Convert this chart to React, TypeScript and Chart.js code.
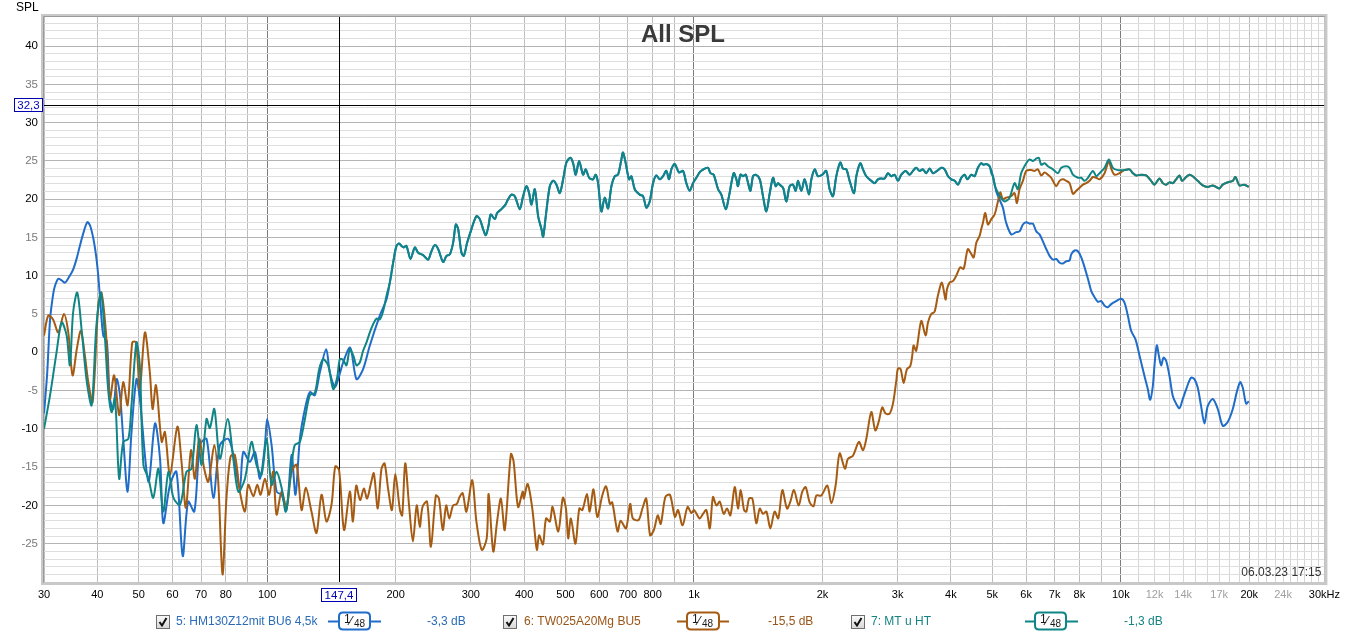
import React, { useEffect, useRef } from 'react';
import { Chart, registerables } from 'chart.js';

Chart.register(...registerables);

// ---------------- DATA ----------------
// Woofer (5: HM130Z12mit BU6 4,5k) – low part
const FREQ_LOW_BLUE = [30, 30.5, 31, 31.5, 31.8, 32.4, 33, 33.6, 34.3, 35.1, 35.8, 36.4, 37.2, 37.9, 38.5, 39.2, 39.8, 40.2, 40.6, 41.3, 42.1, 42.8, 43.6, 44.4, 45.2, 46.0, 47.1, 48.1, 49.4, 50.3, 52.7, 54.6, 56.1, 57.1, 59.2, 61.3, 63.4, 65.3, 67.5, 69.6, 72.1, 74.8, 77.5, 81.1, 83.3, 86.3, 87.9, 91.1, 93.6, 96.2, 98.8, 100, 102.4, 105.2, 108.1, 111.0, 114.1, 116.5, 119.3, 122.6, 125.9, 129.3, 132.9, 137.5, 140.2, 144.1, 146.7, 150.7, 156.5, 161.9, 167.8, 174.0, 183.6, 190.3];
const DB_LOW_BLUE = [-8.0, -3.0, 4.3, 7.5, 8.6, 9.6, 9.4, 9.1, 9.8, 10.8, 12.3, 13.9, 15.8, 17.0, 16.5, 14.7, 12.3, 10.0, 7.0, 2.2, 1.5, -6.0, -7.4, -3.5, -5.6, -11.3, -18.2, -10.4, -3.5, -6.0, -16.9, -9.3, -13.9, -22.3, -17.3, -15.6, -26.6, -19.5, -20.8, -12.1, -11.3, -19.0, -12.1, -11.3, -13.4, -17.7, -13.0, -14.3, -13.0, -16.5, -12.1, -8.7, -12.1, -18.2, -18.6, -20.6, -13.4, -18.6, -11.3, -7.4, -5.2, -5.6, -2.6, 0.4, -2.6, -4.5, -3.5, -1.3, 0.6, -3.5, -2.2, 0.9, 4.8, 6.9];

// Sum (7: MT u HT) – low part
const FREQ_LOW_TEAL = [30, 31.0, 32.1, 33.0, 33.9, 34.5, 35.1, 35.9, 36.8, 37.8, 38.8, 39.8, 40.8, 41.7, 42.4, 43.2, 44.0, 45.0, 46.0, 47.3, 48.1, 49.4, 50.3, 51.3, 52.7, 54.1, 55.6, 57.1, 58.7, 60.3, 62.5, 64.7, 66.5, 68.3, 70.2, 72.1, 73.4, 75.2, 77.5, 80.8, 83.3, 85.6, 88.7, 91.9, 94.4, 97.0, 99.7, 102.4, 105.2, 108.1, 110.6, 114.1, 116.1, 119.3, 122.6, 125.9, 129.3, 132.4, 135.3, 139.0, 142.8, 145.9, 148.0, 150.7, 153.4, 156.2, 159.1, 161.9, 164.9, 167.8, 170.9, 174.0, 177.2, 180.4, 183.7, 187.0, 190.4];
const DB_LOW_TEAL = [-10.0, -5.6, 0.0, 3.9, 2.2, -1.7, 5.2, 7.8, 2.6, -3.9, -6.9, 3.5, 7.8, 1.7, -4.8, -7.8, -6.0, -16.5, -11.7, -11.3, -6.9, 1.3, -1.7, -14.7, -16.5, -19.0, -15.2, -20.8, -15.6, -19.0, -19.9, -15.6, -15.2, -9.5, -14.7, -8.7, -9.9, -7.4, -13.9, -8.7, -13.9, -18.2, -16.5, -11.7, -14.7, -16.0, -11.3, -17.3, -15.6, -17.7, -20.8, -14.7, -12.1, -11.7, -8.7, -5.6, -5.3, -2.2, -0.9, -1.7, -4.8, -3.3, -0.9, -1.0, -1.7, 0.4, -0.4, -1.7, -1.3, 0.2, 1.3, 2.6, 3.7, 4.4, 4.3, 5.4, 7.4];

// Woofer and sum are identical in the passband
const FREQ_MID = [193.8, 197.3, 200.9, 203.8, 206.4, 209.0, 212.0, 216.7, 221.8, 225.8, 232.0, 238.3, 242.6, 247.0, 251.5, 258.4, 263.1, 267.9, 272.7, 276.7, 280.2, 285.3, 288.9, 294.1, 301.1, 309.3, 314.9, 320.6, 325.3, 330.0, 334.1, 341.5, 345.8, 353.9, 361.7, 366.9, 373.5, 380.3, 390.7, 397.8, 405.1, 410.9, 416.2, 423.7, 431.4, 439.2, 443.2, 449.6, 459.4, 467.8, 476.2, 484.9, 493.7, 502.5, 513.5, 521.0, 528.5, 538.1, 549.8, 557.8, 567.9, 580.3, 588.7, 596.1, 606.9, 617.9, 629.1, 640.5, 652.1, 663.9, 676.0, 682.0, 692.0, 704.6, 713.5, 726.5, 746.3, 759.8, 773.6, 787.6, 801.9, 816.4, 831.2, 846.2, 861.6, 874.1, 885.1, 901.1, 922.5, 942.5, 959.6, 977.1, 994.8, 1012.9, 1031, 1046, 1060, 1079, 1093, 1112, 1139, 1159, 1187, 1208, 1239, 1257, 1268, 1285, 1303, 1322, 1339, 1356, 1375, 1395, 1426, 1451, 1478, 1505, 1532, 1554, 1574, 1588, 1617, 1646, 1676, 1706, 1731, 1753, 1785, 1817, 1860, 1884, 1918, 1952, 1999, 2042, 2079, 2117, 2155, 2202, 2234, 2275, 2316, 2371, 2401, 2453, 2489, 2534, 2603, 2650, 2699, 2747, 2797, 2848, 2900, 2952, 3006, 3060, 3133, 3201, 3259, 3317, 3377, 3439, 3501, 3566, 3631, 3710, 3798, 3867, 3937, 4009, 4082, 4156, 4231, 4308, 4370, 4464, 4545, 4627, 4711, 4771, 4840, 4928];
const DB_MID = [9.1, 11.7, 13.9, 14.2, 13.9, 13.7, 13.9, 12.2, 13.7, 13.0, 12.7, 12.1, 13.2, 14.0, 13.5, 11.8, 12.6, 12.8, 14.3, 16.7, 16.1, 13.0, 12.6, 14.3, 16.1, 17.8, 17.4, 16.1, 15.3, 16.5, 18.0, 17.4, 18.2, 18.7, 19.3, 20.0, 20.6, 20.4, 18.7, 20.4, 21.7, 20.8, 19.3, 21.3, 17.8, 16.1, 15.1, 17.8, 21.7, 22.4, 21.9, 20.8, 22.6, 24.8, 25.4, 24.7, 23.2, 25.0, 23.2, 23.9, 22.8, 22.6, 23.2, 22.1, 18.4, 20.2, 18.8, 21.7, 23.0, 23.2, 25.2, 26.1, 24.7, 22.6, 23.0, 21.3, 20.6, 20.4, 18.9, 19.7, 22.1, 23.1, 22.6, 23.0, 23.7, 22.6, 23.9, 24.6, 23.5, 23.7, 22.1, 21.1, 22.1, 22.8, 23.5, 23.8, 24.0, 24.1, 23.4, 23.2, 21.3, 20.6, 18.7, 20.4, 23.4, 22.6, 21.7, 23.2, 23.0, 23.2, 22.1, 21.1, 23.0, 23.2, 22.6, 20.4, 18.4, 20.8, 22.8, 21.7, 22.1, 21.9, 21.5, 19.7, 21.7, 21.9, 21.1, 22.4, 21.1, 22.6, 20.6, 22.6, 23.9, 23.0, 23.2, 23.7, 21.3, 20.4, 23.0, 24.8, 24.0, 23.9, 22.4, 20.8, 23.0, 24.7, 23.9, 23.0, 22.4, 22.1, 22.6, 22.7, 22.7, 23.4, 23.0, 23.2, 22.4, 23.2, 23.7, 23.2, 23.7, 24.1, 23.7, 23.9, 23.4, 24.0, 23.4, 23.7, 24.1, 23.9, 23.0, 22.6, 22.4, 21.9, 22.8, 23.2, 22.6, 23.2, 23.0, 24.1, 24.7, 24.5, 24.6, 24.3];

// Woofer – roll-off
const FREQ_HI_BLUE = [5017, 5108, 5203, 5294, 5390, 5539, 5689, 5792, 5898, 6005, 6115, 6225, 6338, 6452, 6569, 6688, 6810, 6935, 7060, 7188, 7319, 7452, 7587, 7655, 7795, 7936, 8080, 8227, 8376, 8528, 8682, 8840, 9000, 9163, 9328, 9496, 9754, 10021, 10203, 10388, 10577, 10827, 11062, 11364, 11570, 11717, 11887, 11994, 12146, 12278, 12433, 12590, 12773, 13005, 13240, 13480, 13724, 13972, 14277, 14612, 14877, 15146, 15420, 15707, 15991, 16427, 16875, 17336, 17808, 18299, 18698, 19037, 19311, 19661, 19946];
const DB_HI_BLUE = [23.0, 21.0, 19.9, 18.9, 16.9, 15.4, 15.7, 15.8, 16.7, 17.0, 16.8, 16.8, 15.8, 15.4, 14.5, 13.5, 12.6, 12.1, 12.2, 11.7, 11.6, 11.9, 12.0, 12.8, 13.3, 13.2, 12.4, 11.1, 9.6, 8.0, 7.2, 6.6, 6.7, 6.1, 5.9, 6.3, 6.7, 7.0, 6.5, 4.8, 2.8, 1.7, -0.4, -3.1, -4.8, -6.2, -4.4, -1.7, 0.9, -0.4, -1.7, -0.7, -1.1, -3.1, -5.7, -6.7, -7.3, -6.1, -4.6, -3.3, -3.5, -4.6, -7.0, -9.3, -7.0, -6.1, -7.4, -9.6, -9.1, -7.4, -5.2, -3.9, -4.6, -6.7, -6.4];

// Sum – crossover region
const FREQ_HI_TEAL = [4973, 5017, 5063, 5108, 5203, 5343, 5489, 5638, 5739, 5845, 6005, 6115, 6225, 6338, 6429, 6510, 6628, 6749, 6935, 7124, 7253, 7452, 7587, 7725, 7936, 8080, 8227, 8376, 8605, 8761, 8920, 9163, 9378, 9581, 9842];
const DB_HI_TEAL = [23.4, 23.0, 21.9, 21.3, 20.4, 19.7, 20.2, 22.1, 21.3, 23.4, 24.7, 25.2, 25.0, 25.3, 25.4, 24.5, 24.7, 24.3, 23.9, 23.4, 24.1, 24.3, 24.1, 23.2, 22.8, 22.8, 22.4, 22.8, 23.7, 23.0, 23.4, 24.1, 25.2, 24.1, 23.8];

// Tweeter and sum are identical above 10 kHz
const FREQ_TAIL = [10203, 10482, 10673, 10866, 11162, 11467, 11780, 11994, 12322, 12545, 12773, 13005, 13240, 13480, 13724, 13922, 14175, 14481, 14744, 15146, 15559, 15991, 16427, 16724, 17027, 17336, 17808, 18299, 18565, 18968, 19485, 19946];
const DB_TAIL = [23.8, 23.9, 23.4, 23.1, 23.2, 23.1, 22.4, 21.9, 22.7, 22.1, 21.9, 22.2, 22.1, 22.6, 23.1, 22.4, 22.8, 23.2, 23.0, 22.4, 21.8, 21.6, 21.8, 21.6, 21.4, 21.9, 22.2, 22.4, 22.9, 21.8, 21.9, 21.6];

// Tweeter (6: TW025A20Mg BU5)
const FREQ_BROWN_LOW = [30.0, 30.7, 31.5, 32.4, 33.4, 34.2, 35.0, 35.8, 36.6, 37.4, 38.1, 39.0, 40.2, 40.9, 41.9, 42.8, 43.8, 45.0, 46.0, 47.1, 48.3, 49.3, 50.3, 51.7, 53.1, 53.9, 54.9, 56.6, 57.6, 59.2, 61.6, 63.0, 64.5, 66.3, 67.7, 69.3, 71.2, 72.8, 75.2, 76.8, 78.6, 80.3, 82.1, 84.0, 86.3, 88.7, 90.3, 92.8, 94.8, 96.5, 98.8, 101.1, 103.3, 105.2, 108.1, 111.0, 114.1, 117.2, 120.4, 123.2, 127.0, 130.5, 134.1, 137.7, 141.5];
const DB_BROWN_LOW = [2.2, 4.8, 4.3, 2.6, 5.0, 2.6, -3.0, 0.4, 2.8, -0.4, -3.9, -6.5, 6.1, 7.8, 2.6, -6.1, -3.0, -8.2, -3.9, -6.9, 1.3, 1.3, -4.8, 2.6, -2.6, -7.4, -4.3, -11.7, -10.4, -16.0, -9.7, -14.3, -20.3, -12.8, -16.5, -11.3, -15.2, -16.9, -12.1, -16.9, -29.0, -19.0, -13.6, -13.4, -18.2, -20.8, -17.3, -18.8, -17.3, -18.6, -16.5, -18.6, -15.6, -21.2, -18.2, -20.3, -15.6, -14.7, -20.6, -17.7, -20.8, -23.6, -18.6, -22.1, -19.9];
const FREQ_BROWN_MID = [144.4, 147.4, 151.4, 156.2, 158.8, 161.7, 165.1, 168.5, 171.4, 174.9, 177.8, 181.6, 185.3, 188.4, 192.0, 196.0, 199.6, 204.7, 207.2, 210.6, 215.0, 219.5, 224.1, 227.8, 231.2, 236.9, 241.9, 248.5, 252.6, 257.9, 262.7, 267.1, 272.6, 278.3, 282.4, 287.1, 293.0, 302.3, 309.2, 318.3, 326.9, 330.3, 338.6, 345.7, 352.9, 360.2, 372.4, 377.8, 387.2, 397.0, 399.4, 407.7, 418.0, 428.4, 433.7, 442.8, 450.2, 459.5, 466.3, 480.9, 493.0, 501.2, 507.4, 514.8, 527.7, 538.7, 547.7, 561.4, 569.6, 581.5, 593.6, 609.7, 622.4, 635.4, 643.4, 662.2, 673.2, 693.0, 708.8, 719.2, 741.7, 757.2, 772.9, 789.1, 805.6, 822.3, 836.0, 857.0, 878.5, 902.4, 917.5, 940.4, 966.0, 986.2, 1000.6];
const DB_BROWN_MID = [-14.9, -15.4, -23.2, -18.2, -22.1, -17.4, -19.3, -17.8, -19.1, -17.2, -15.8, -20.4, -15.2, -14.5, -17.8, -20.6, -15.9, -20.6, -21.3, -14.5, -20.0, -24.7, -20.0, -22.8, -20.2, -19.5, -25.4, -18.7, -19.1, -23.2, -20.0, -21.7, -20.0, -19.8, -18.9, -18.4, -20.8, -16.7, -22.1, -25.8, -24.3, -18.5, -26.0, -22.1, -19.1, -23.2, -13.3, -14.2, -20.2, -18.2, -19.1, -17.2, -20.4, -25.8, -23.9, -25.1, -21.7, -22.1, -20.2, -23.4, -19.0, -20.4, -24.3, -21.7, -25.0, -20.4, -20.6, -18.5, -20.8, -17.9, -21.5, -18.7, -17.5, -19.8, -19.6, -23.4, -22.0, -23.0, -19.8, -21.7, -21.9, -20.4, -19.1, -23.9, -23.2, -21.3, -22.4, -18.9, -18.6, -21.5, -20.6, -22.6, -20.2, -21.0, -20.6];
const FREQ_BROWN_HIGH = [1031, 1050, 1069, 1089, 1108, 1129, 1149, 1174, 1195, 1217, 1246, 1268, 1287, 1310, 1327, 1346, 1370, 1400, 1426, 1451, 1478, 1510, 1545, 1576, 1611, 1652, 1682, 1715, 1759, 1794, 1827, 1867, 1907, 1935, 1988, 2053, 2098, 2147, 2194, 2258, 2295, 2358, 2435, 2489, 2534, 2603, 2660, 2708, 2762, 2812, 2873, 2926, 2979, 3006, 3049, 3099, 3155, 3212, 3247, 3270, 3317, 3408, 3489, 3534, 3597, 3662, 3728, 3809, 3885, 3914, 3971, 4043, 4116, 4206, 4282, 4344, 4383, 4448, 4521, 4587, 4669, 4711, 4753, 4814, 4884, 4973, 5063, 5154, 5219, 5294, 5390, 5539, 5638, 5709, 5792, 5898, 6005, 6169, 6281, 6395, 6510, 6628, 6749, 6872, 7060, 7188, 7319, 7452, 7587, 7725, 7865, 8008, 8153, 8301, 8451, 8605, 8761, 8920, 9163, 9378, 9496, 9667, 9931, 10112];
const DB_BROWN_HIGH = [-21.7, -21.1, -20.6, -23.0, -18.9, -20.0, -19.5, -21.1, -20.4, -21.3, -17.6, -20.4, -18.0, -20.6, -20.8, -19.1, -19.1, -22.3, -20.4, -21.1, -20.8, -23.0, -20.8, -21.7, -18.0, -20.4, -19.5, -18.0, -20.0, -18.2, -17.6, -19.6, -20.1, -18.7, -18.7, -17.4, -19.7, -17.4, -13.2, -15.2, -13.9, -13.5, -11.7, -12.8, -11.3, -7.8, -10.2, -9.1, -7.2, -8.0, -8.0, -6.7, -3.7, -2.1, -2.2, -4.0, -2.2, -1.8, -0.4, 0.9, 0.2, 4.1, 2.2, 3.9, 5.0, 5.3, 7.4, 9.1, 6.9, 8.2, 9.1, 9.3, 10.0, 11.1, 10.9, 12.6, 13.5, 13.0, 12.4, 14.3, 15.2, 16.1, 16.9, 18.2, 16.7, 17.4, 18.0, 19.7, 20.9, 20.0, 20.2, 20.4, 20.8, 19.5, 21.3, 22.4, 23.7, 23.8, 23.7, 23.9, 23.1, 23.5, 23.2, 22.8, 21.7, 22.4, 22.6, 22.4, 22.1, 20.7, 21.1, 21.5, 21.9, 22.1, 22.4, 22.9, 22.8, 22.6, 23.4, 25.0, 24.0, 23.2, 23.4, 23.7];

// Axis ticks
const X_GRID_VALUES = [30, 40, 50, 60, 70, 80, 90, 100, 200, 300, 400, 500, 600, 700, 800, 900, 1000, 2000, 3000, 4000, 5000, 6000, 7000, 8000, 9000, 10000, 11000, 12000, 13000, 14000, 15000, 16000, 17000, 18000, 19000, 20000, 21000, 22000, 23000, 24000, 25000, 26000, 27000, 28000, 29000, 30000];
const X_LABEL_VALUES = [30, 40, 50, 60, 70, 80, 100, 200, 300, 400, 500, 600, 700, 800, 1000, 2000, 3000, 4000, 5000, 6000, 7000, 8000, 10000, 12000, 14000, 17000, 20000, 24000, 30000];
const X_LABEL_TEXT = ['30', '40', '50', '60', '70', '80', '100', '200', '300', '400', '500', '600', '700', '800', '1k', '2k', '3k', '4k', '5k', '6k', '7k', '8k', '10k', '12k', '14k', '17k', '20k', '24k', '30kHz'];
const X_LABEL_FAINT = [12000, 14000, 17000, 24000];
const X_DECADES = [100, 1000, 10000];
const Y_LABEL_VALUES = [-25, -20, -15, -10, -5, 0, 5, 10, 15, 20, 25, 30, 35, 40];

// Cursor and legend content
const CURSOR_FREQ = 147.4;
const CURSOR_DB = 32.3;
const CURSOR_FREQ_TEXT = '147,4';
const CURSOR_DB_TEXT = '32,3';
const LEGEND_NAMES = ['5: HM130Z12mit BU6 4,5k', '6: TW025A20Mg BU5', '7: MT u HT'];
const LEGEND_OFFSETS = ['-3,3 dB', '-15,5 dB', '-1,3 dB'];
const TITLE = 'All SPL';
const Y_TITLE = 'SPL';
const DATE_TEXT = '06.03.23 17:15';

// ---------------- STYLE / LAYOUT ----------------
const W = 1346;
const H = 635;
const FONT = '"Liberation Sans", Arial, sans-serif';
const BLUE = '#1f6cc9';
const BROWN = '#a65b12';
const TEAL = '#0f8585';
const LEGEND_LINE = [BLUE, BROWN, TEAL];
const LEGEND_TEXT = ['#2b6cb8', '#9a5518', '#168383'];
const LEGEND_LAYOUT = [
  { cb: 156, text: 176, l1: 328, l2: 381, b1: 339, b2: 370, val: 427 },
  { cb: 503, text: 524, l1: 677, l2: 729, b1: 687, b2: 719, val: 768 },
  { cb: 851, text: 871, l1: 1025, l2: 1078, b1: 1035, b2: 1066, val: 1124 },
];

function pairs(xs: number[], ys: number[]) {
  const n = Math.min(xs.length, ys.length);
  const out: { x: number; y: number }[] = [];
  for (let i = 0; i < n; i++) out.push({ x: xs[i], y: ys[i] });
  return out;
}

function roundRect(ctx: CanvasRenderingContext2D, x: number, y: number, w: number, h: number, r: number) {
  ctx.beginPath();
  ctx.moveTo(x + r, y);
  ctx.lineTo(x + w - r, y);
  ctx.quadraticCurveTo(x + w, y, x + w, y + r);
  ctx.lineTo(x + w, y + h - r);
  ctx.quadraticCurveTo(x + w, y + h, x + w - r, y + h);
  ctx.lineTo(x + r, y + h);
  ctx.quadraticCurveTo(x, y + h, x, y + h - r);
  ctx.lineTo(x, y + r);
  ctx.quadraticCurveTo(x, y, x + r, y);
  ctx.closePath();
}

const overlayPlugin = {
  id: 'rewOverlay',
  beforeDraw(chart: any) {
    const ctx = chart.ctx as CanvasRenderingContext2D;
    ctx.save();
    ctx.fillStyle = '#ffffff';
    ctx.fillRect(0, 0, chart.width, chart.height);
    ctx.restore();
  },
  beforeDatasetsDraw(chart: any) {
    const ctx = chart.ctx as CanvasRenderingContext2D;
    const { left, right, top, bottom } = chart.chartArea;
    const cx = Math.round(chart.scales.x.getPixelForValue(CURSOR_FREQ)) + 0.5;
    const cy = Math.round(chart.scales.y.getPixelForValue(CURSOR_DB)) + 0.5;
    ctx.save();
    ctx.strokeStyle = '#000000';
    ctx.lineWidth = 1;
    ctx.beginPath();
    ctx.moveTo(cx, top);
    ctx.lineTo(cx, bottom);
    ctx.moveTo(left, cy);
    ctx.lineTo(right, cy);
    ctx.stroke();
    // title
    ctx.fillStyle = '#3a3a3a';
    ctx.font = `bold 24px ${FONT}`;
    ctx.textAlign = 'center';
    ctx.textBaseline = 'alphabetic';
    ctx.fillText(TITLE, 683, 42);
    ctx.restore();
  },
  afterDraw(chart: any) {
    const ctx = chart.ctx as CanvasRenderingContext2D;
    const { left, right, top, bottom } = chart.chartArea;
    ctx.save();
    // frame
    ctx.strokeStyle = '#c8c8c8';
    ctx.lineWidth = 3;
    ctx.strokeRect(left - 1.5, top - 1.5, right - left + 3, bottom - top + 3);
    ctx.strokeStyle = '#9a9a9a';
    ctx.lineWidth = 1;
    ctx.beginPath();
    ctx.moveTo(left - 0.5, bottom + 0.5);
    ctx.lineTo(left - 0.5, top - 0.5);
    ctx.lineTo(right + 0.5, top - 0.5);
    ctx.stroke();

    // y title
    ctx.fillStyle = '#000';
    ctx.font = `12px ${FONT}`;
    ctx.textAlign = 'left';
    ctx.textBaseline = 'middle';
    ctx.fillText(Y_TITLE, 16, 8);

    // date
    ctx.fillStyle = '#333';
    ctx.font = `12px ${FONT}`;
    ctx.textAlign = 'right';
    ctx.fillText(DATE_TEXT, right - 3, bottom - 9);

    // cursor labels
    const cx = chart.scales.x.getPixelForValue(CURSOR_FREQ);
    const cy = chart.scales.y.getPixelForValue(CURSOR_DB);
    ctx.font = `11.5px ${FONT}`;
    ctx.lineWidth = 1;
    ctx.strokeStyle = '#0000b0';
    ctx.fillStyle = '#ffffff';
    ctx.fillRect(Math.round(cx) - 18, 588, 36, 14);
    ctx.strokeRect(Math.round(cx) - 17.5, 588.5, 35, 13);
    ctx.fillRect(14, Math.round(cy) - 7, 29, 14);
    ctx.strokeRect(14.5, Math.round(cy) - 6.5, 28, 13);
    ctx.fillStyle = '#0000b8';
    ctx.textAlign = 'center';
    ctx.textBaseline = 'middle';
    ctx.fillText(CURSOR_FREQ_TEXT, Math.round(cx), 595.5);
    ctx.fillText(CURSOR_DB_TEXT, 28.5, Math.round(cy) + 0.5);

    // legend
    const ly = 621.5;
    LEGEND_LAYOUT.forEach((p, i) => {
      // checkbox
      const bx = p.cb + 0.5;
      const by = 615.5;
      const g = ctx.createLinearGradient(0, by, 0, by + 13);
      g.addColorStop(0, '#fbfbfb');
      g.addColorStop(1, '#d6d6d6');
      ctx.fillStyle = g;
      ctx.fillRect(bx, by, 13, 13);
      ctx.strokeStyle = '#6f6f6f';
      ctx.lineWidth = 1;
      ctx.strokeRect(bx, by, 13, 13);
      ctx.strokeStyle = '#111';
      ctx.lineWidth = 2;
      ctx.beginPath();
      ctx.moveTo(bx + 3, by + 6.5);
      ctx.lineTo(bx + 5.5, by + 10);
      ctx.lineTo(bx + 10, by + 2.5);
      ctx.stroke();
      // name
      ctx.font = `12px ${FONT}`;
      ctx.fillStyle = LEGEND_TEXT[i];
      ctx.textAlign = 'left';
      ctx.textBaseline = 'middle';
      ctx.fillText(LEGEND_NAMES[i], p.text, ly);
      // line symbol
      ctx.strokeStyle = LEGEND_LINE[i];
      ctx.lineWidth = 2;
      ctx.beginPath();
      ctx.moveTo(p.l1, ly);
      ctx.lineTo(p.l2, ly);
      ctx.stroke();
      roundRect(ctx, p.b1, 612.5, p.b2 - p.b1, 17, 4);
      ctx.fillStyle = '#ffffff';
      ctx.fill();
      ctx.stroke();
      ctx.fillStyle = '#1a1a1a';
      ctx.font = `12px ${FONT}`;
      ctx.textAlign = 'left';
      ctx.fillText('1', p.b1 + 5, ly - 1.5);
      ctx.font = `13px ${FONT}`;
      ctx.fillText('\u2044', p.b1 + 11, ly - 0.5);
      ctx.font = `10px ${FONT}`;
      ctx.fillText('48', p.b1 + 15, ly + 2.5);
      // offset
      ctx.font = `12px ${FONT}`;
      ctx.fillStyle = LEGEND_TEXT[i];
      ctx.fillText(LEGEND_OFFSETS[i], p.val, ly);
    });
    ctx.restore();
  },
};

export default function App() {
  const canvasRef = useRef<HTMLCanvasElement | null>(null);

  useEffect(() => {
    const canvas = canvasRef.current;
    if (!canvas) return;
    document.body.style.margin = '0';

    const blueData = [...pairs(FREQ_LOW_BLUE, DB_LOW_BLUE), ...pairs(FREQ_MID, DB_MID), ...pairs(FREQ_HI_BLUE, DB_HI_BLUE)];
    const tealData = [...pairs(FREQ_LOW_TEAL, DB_LOW_TEAL), ...pairs(FREQ_MID, DB_MID), ...pairs(FREQ_HI_TEAL, DB_HI_TEAL), ...pairs(FREQ_TAIL, DB_TAIL)];
    const brownData = [...pairs(FREQ_BROWN_LOW, DB_BROWN_LOW), ...pairs(FREQ_BROWN_MID, DB_BROWN_MID), ...pairs(FREQ_BROWN_HIGH, DB_BROWN_HIGH), ...pairs(FREQ_TAIL, DB_TAIL)];

    const common = { pointRadius: 0, borderWidth: 2, tension: 0.3, fill: false };

    const chart = new Chart(canvas, {
      type: 'line',
      data: {
        datasets: [
          { label: LEGEND_NAMES[2], data: tealData, borderColor: TEAL, order: 1, ...common },
          { label: LEGEND_NAMES[1], data: brownData, borderColor: BROWN, order: 2, ...common },
          { label: LEGEND_NAMES[0], data: blueData, borderColor: BLUE, order: 3, ...common },
        ],
      } as any,
      options: {
        animation: false,
        responsive: false,
        maintainAspectRatio: false,
        events: [],
        layout: { padding: { top: 17, right: 21, left: 0, bottom: 0 } },
        plugins: { legend: { display: false }, tooltip: { enabled: false }, title: { display: false } },
        scales: {
          x: {
            type: 'logarithmic',
            min: 30,
            max: 30000,
            afterBuildTicks: (s: any) => {
              s.ticks = X_GRID_VALUES.map((v) => ({ value: v }));
            },
            afterFit: (s: any) => {
              s.height = 53;
            },
            border: { display: false },
            grid: {
              drawTicks: false,
              lineWidth: 1,
              color: (c: any) => {
                const v = c.tick ? c.tick.value : 0;
                if (X_DECADES.includes(v)) return '#7c7c7c';
                if (v > 10000 && v < 30000 && v !== 20000) return '#d6d6d6';
                return '#bdbdbd';
              },
            },
            ticks: {
              autoSkip: false,
              maxRotation: 0,
              minRotation: 0,
              padding: 6,
              font: { family: FONT, size: 11 },
              color: (c: any) => (c.tick && X_LABEL_FAINT.includes(c.tick.value) ? '#a0a0a0' : '#000000'),
              callback: (value: any) => {
                const idx = X_LABEL_VALUES.indexOf(Number(value));
                return idx >= 0 ? X_LABEL_TEXT[idx] : '';
              },
            },
          },
          y: {
            type: 'linear',
            min: -30,
            max: 43.8,
            afterBuildTicks: (s: any) => {
              const t: { value: number }[] = [];
              for (let v = -30; v <= 43; v++) t.push({ value: v });
              s.ticks = t;
            },
            afterFit: (s: any) => {
              s.width = 44;
            },
            border: { display: false },
            grid: {
              drawTicks: false,
              lineWidth: 1,
              color: (c: any) => {
                const v = c.tick ? c.tick.value : 0;
                return v % 5 === 0 ? '#b4b4b4' : '#dedede';
              },
            },
            ticks: {
              autoSkip: false,
              padding: 6,
              font: { family: FONT, size: 11.5 },
              color: (c: any) => (c.tick && c.tick.value % 10 === 0 ? '#000000' : '#7a7a7a'),
              callback: (value: any) => (Y_LABEL_VALUES.includes(Number(value)) ? String(value) : ''),
            },
          },
        },
      } as any,
      plugins: [overlayPlugin as any],
    });

    return () => {
      chart.destroy();
    };
  }, []);

  return (
    <div style={{ position: 'fixed', left: 0, top: 0, width: W, height: H, background: '#fff' }}>
      <canvas ref={canvasRef} width={W} height={H} style={{ display: 'block' }} />
    </div>
  );
}
